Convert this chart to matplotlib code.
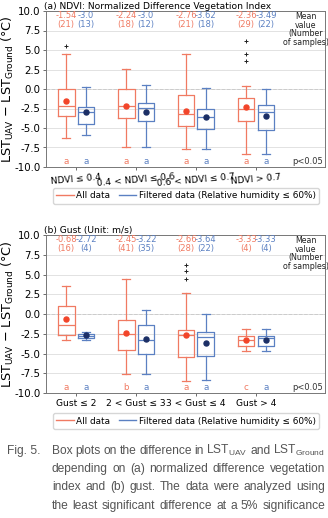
import numpy as np
import matplotlib.pyplot as plt
from matplotlib.lines import Line2D

RED = '#f07a62'
BLUE = '#5b80c2'
RED_MEAN = '#f2452a'
BLUE_MEAN = '#1c2f66'

# (a) NDVI classes
ndvi_labels = ['NDVI ≤ 0.4', '0.4 < NDVI ≤ 0.6', '0.6 < NDVI ≤ 0.7', 'NDVI > 0.7']
ndvi_all = dict(whislo=[-6.3, -7.4, -7.65, -8.35], q1=[-3.4, -3.7, -4.8, -4.05],
                med=[-2.15, -2.15, -3.2, -2.55], q3=[0.05, 0.0, -0.8, -1.15],
                whishi=[4.45, 2.55, 4.5, 0.4], mean=[-1.54, -2.24, -2.76, -2.36],
                fliers=[[5.55], [], [], [6.2, 4.45, 3.55]], n=[21, 18, 21, 29])
ndvi_filt = dict(whislo=[-5.85, -7.4, -7.65, -8.35], q1=[-4.45, -4.15, -5.1, -5.2],
                 med=[-3.0, -2.45, -3.6, -2.95], q3=[-2.25, -1.8, -2.55, -2.0],
                 whishi=[0.2, 0.5, 0.1, 0.0], mean=[-3.0, -3.0, -3.62, -3.49],
                 fliers=[[], [], [], []], n=[13, 12, 18, 22])
ndvi_letters_all = ['a', 'a', 'a', 'a']
ndvi_letters_filt = ['a', 'a', 'a', 'a']

# (b) gust classes
gust_labels = ['Gust ≤ 2', '2 < Gust ≤ 3', '3 < Gust ≤ 4', 'Gust > 4']
gust_all = dict(whislo=[-3.3, -7.6, -8.45, -4.65], q1=[-2.7, -4.5, -5.4, -4.05],
                med=[-1.35, -2.5, -2.7, -3.35], q3=[0.95, -0.75, -2.05, -2.8],
                whishi=[3.55, 4.4, 2.6, -1.85], mean=[-0.68, -2.45, -2.66, -3.33],
                fliers=[[], [], [6.25, 5.4, 4.45], []], n=[16, 41, 28, 4])
gust_filt = dict(whislo=[-3.3, -7.6, -8.4, -4.65], q1=[-3.0, -5.0, -5.3, -4.05],
                 med=[-2.8, -3.3, -2.85, -3.1], q3=[-2.5, -1.35, -2.3, -2.8],
                 whishi=[-2.3, 0.5, 0.0, -1.85], mean=[-2.72, -3.22, -3.64, -3.33],
                 fliers=[[], [], [], []], n=[4, 35, 22, 4])
gust_letters_all = ['a', 'b', 'a', 'c']
gust_letters_filt = ['a', 'a', 'a', 'a']

caption_lines = ['Box plots on the difference in LST$_{\\mathregular{UAV}}$ and LST$_{\\mathregular{Ground}}$',
                 'depending on (a) normalized difference vegetation',
                 'index and (b) gust. The data were analyzed using',
                 'the least significant difference at a 5% significance',
                 'level. Red box plots were derived using all data']

plt.rcParams['font.family'] = ['DejaVu Sans']
FS = 6.0


def draw_panel(ax, title, labels, s_all, s_filt, let_all, let_filt, rot):
    pos = np.arange(1, len(labels) + 1)
    off = 0.165
    for s, dx, col, mcol, lets in [(s_all, -off, RED, RED_MEAN, let_all),
                                   (s_filt, off, BLUE, BLUE_MEAN, let_filt)]:
        stats = []
        for i in range(len(labels)):
            stats.append(dict(med=s['med'][i], q1=s['q1'][i], q3=s['q3'][i],
                              whislo=s['whislo'][i], whishi=s['whishi'][i],
                              mean=s['mean'][i], fliers=s['fliers'][i]))
        lp = dict(color=col, linewidth=0.9)
        ax.bxp(stats, positions=pos + dx, widths=0.28, capwidths=0.14,
               showmeans=True, boxprops=lp, whiskerprops=lp, capprops=lp,
               medianprops=lp,
               meanprops=dict(marker='o', markerfacecolor=mcol,
                              markeredgecolor=mcol, markersize=3.6),
               flierprops=dict(marker='+', markeredgecolor='#222222',
                               markersize=3.5, markeredgewidth=0.7))
        for i in range(len(labels)):
            ax.text(pos[i] + dx, 9.45, str(s['mean'][i]), color=col,
                    ha='center', va='center', fontsize=FS)
            ax.text(pos[i] + dx, 8.3, '({})'.format(s['n'][i]), color=col,
                    ha='center', va='center', fontsize=FS)
            ax.text(pos[i] + dx, -9.35, lets[i], color=col,
                    ha='center', va='center', fontsize=FS + 0.3)
    ax.text(4.83, 9.85, 'Mean\nvalue\n(Number\nof samples)', ha='center',
            va='top', fontsize=5.7, color='#222222', linespacing=0.95)
    ax.text(5.12, -9.35, 'p<0.05', ha='right', va='center', fontsize=FS,
            color='#333333')
    ax.axhline(0, color='#777777', lw=0.7, ls='--', zorder=0)
    ax.set_xlim(0.5, 5.15)
    ax.set_ylim(-10, 10)
    ax.set_yticks(np.arange(-10, 10.1, 2.5))
    ax.set_yticklabels(['{:.1f}'.format(v) for v in np.arange(-10, 10.1, 2.5)])
    ax.yaxis.grid(True, color='#dddddd', lw=0.6)
    ax.set_axisbelow(True)
    ax.set_xticks(pos)
    ax.set_xticklabels(labels, rotation=rot)
    ax.tick_params(labelsize=6.6, length=2.5, width=0.6, color='#555555',
                   pad=1.5)
    ax.tick_params(axis='y', labelsize=7.4)
    for sp in ax.spines.values():
        sp.set_color('#777777')
        sp.set_linewidth(0.7)
    ax.set_title(title, loc='left', fontsize=6.6, pad=1.5, x=-0.008)
    ax.set_ylabel('LST$_{\\mathrm{UAV}}$ $-$ LST$_{\\mathrm{Ground}}$ (°C)',
                  fontsize=9.2)
    ax.yaxis.set_label_coords(-0.106, 0.5)


fig = plt.figure(figsize=(3.28, 5.18), dpi=100)
H = 518.0
W = 328.0
ax1 = fig.add_axes([46 / W, 1 - 167 / H, 279 / W, 156 / H])
ax2 = fig.add_axes([46 / W, 1 - 393 / H, 279 / W, 158 / H])

draw_panel(ax1, '(a) NDVI: Normalized Difference Vegetation Index', ndvi_labels,
           ndvi_all, ndvi_filt, ndvi_letters_all, ndvi_letters_filt, 5)
draw_panel(ax2, '(b) Gust (Unit: m/s)', gust_labels,
           gust_all, gust_filt, gust_letters_all, gust_letters_filt, 0)

handles = [Line2D([], [], color=RED, lw=1), Line2D([], [], color=BLUE, lw=1)]
names = ['All data', 'Filtered data (Relative humidity ≤ 60%)']
for yc in [196, 421]:
    fig.legend(handles, names, loc='center', ncol=2,
               bbox_to_anchor=(186 / W, 1 - yc / H), fontsize=6.4,
               frameon=True, edgecolor='#cccccc', fancybox=True,
               handlelength=2.0, handletextpad=0.3, columnspacing=0.9,
               borderpad=0.35)

# caption: justified lines between x=52 and x=325 px
cap_font = 'Liberation Sans'
cap_col = '#555555'
renderer = fig.canvas.get_renderer()
probe = fig.text(0, 0, caption_lines[1], fontsize=10, family=cap_font)
w10 = probe.get_window_extent(renderer).width
probe.remove()
cap_fs = 10 * 268.0 / w10

fig.text(7 / W, 1 - 454 / H, 'Fig. 5.', fontsize=cap_fs, color=cap_col,
         family=cap_font, va='baseline')
x0, x1 = 52.0, 325.0
for i, line in enumerate(caption_lines):
    y = 1 - (454 + 18.2 * i) / H
    words = line.split(' ')
    items = [fig.text(0, y, w, fontsize=cap_fs, color=cap_col,
                      family=cap_font, va='baseline') for w in words]
    widths = [t.get_window_extent(renderer).width for t in items]
    gap = (x1 - x0 - sum(widths)) / (len(words) - 1)
    x = x0
    for t, w in zip(items, widths):
        t.set_x(x / W)
        x += w + gap

fig.savefig('out.png', dpi=100)
